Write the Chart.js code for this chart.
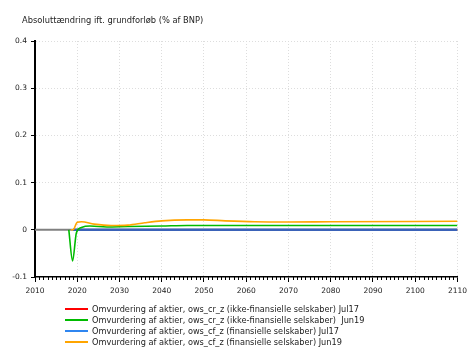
<!DOCTYPE html>
<html>
<head>
<meta charset="utf-8">
<script src="https://cdn.jsdelivr.net/npm/chart.js@4"></script>
<style>
  body { margin: 0; background: #fff; font-family: "DejaVu Sans", Verdana, sans-serif; }
  .wrap { position: relative; width: 472px; height: 347px; }
  .title { position: absolute; left: 22px; top: 15px; font-size: 8.3px; color: #222; }
  .legend { position: absolute; left: 65px; top: 303px; font-size: 8.2px; color: #222; }
  .legend div { display: flex; align-items: center; height: 11px; white-space: pre; }
  .legend span.sw { display: inline-block; width: 23px; height: 2px; margin-right: 4px; }
</style>
</head>
<body>
<div class="wrap">
  <canvas id="c" width="472" height="347"></canvas>
  <div class="title">Absoluttændring ift. grundforløb (% af BNP)</div>
  <div class="legend" id="legend"></div>
</div>
<script>
const labels = [
  'Omvurdering af aktier, ows_cr_z (ikke-finansielle selskaber) Jul17',
  'Omvurdering af aktier, ows_cr_z (ikke-finansielle selskaber)  Jun19',
  'Omvurdering af aktier, ows_cf_z (finansielle selskaber) Jul17',
  'Omvurdering af aktier, ows_cf_z (finansielle selskaber) Jun19'
];
const colors = ['#ff0000', '#00bb00', '#3a62b8', '#ffa500'];
const legendColors = ['#ff0000', '#00bb00', '#2f86f0', '#ffa500'];

// key years / values
const crJul17Years = [2019, 2110];
const crJul17 = [0, 0];
const crJun19Years = [2018, 2018.9, 2019.8, 2021, 2023, 2027, 2032, 2040, 2046, 2060, 2080, 2110];
const crJun19 = [0, -0.066, -0.006, 0.005, 0.008, 0.006, 0.007, 0.008, 0.009, 0.009, 0.009, 0.009];
const cfJul17Years = [2019, 2110];
const cfJul17 = [0, 0];
const cfJun19Years = [2018.5, 2019, 2020, 2021, 2024, 2028, 2032, 2036, 2040, 2046, 2050, 2055, 2062, 2070, 2080, 2110];
const cfJun19 = [0, 0, 0.016, 0.017, 0.012, 0.009, 0.010, 0.015, 0.019, 0.021, 0.021, 0.019, 0.017, 0.0165, 0.017, 0.018];

const xMin = 2010, xMax = 2110;
const yTicks = [-0.1, 0, 0.1, 0.2, 0.3, 0.4];

const pts = (xs, ys) => xs.map((x, i) => ({ x: x, y: ys[i] }));

const extras = {
  id: 'extras',
  beforeDatasetsDraw(chart) {
    const { ctx, chartArea, scales } = chart;
    const y0 = scales.y.getPixelForValue(0);
    ctx.save();
    ctx.strokeStyle = '#808080';
    ctx.lineWidth = 2;
    ctx.beginPath();
    ctx.moveTo(chartArea.left, y0);
    ctx.lineTo(chartArea.right, y0);
    ctx.stroke();
    ctx.restore();
  },
  afterDraw(chart) {
    // minor yearly ticks on the x axis
    const { ctx, chartArea, scales } = chart;
    ctx.save();
    ctx.strokeStyle = '#000';
    ctx.lineWidth = 1;
    ctx.beginPath();
    for (let yr = xMin; yr <= xMax; yr++) {
      if (yr % 10 === 0) continue;
      const px = Math.round(scales.x.getPixelForValue(yr)) + 0.5;
      ctx.moveTo(px, chartArea.bottom);
      ctx.lineTo(px, chartArea.bottom + 3);
    }
    ctx.stroke();
    ctx.restore();
  }
};

const data = [pts(crJul17Years, crJul17), pts(crJun19Years, crJun19), pts(cfJul17Years, cfJul17), pts(cfJun19Years, cfJun19)];

const chart = new Chart(document.getElementById('c'), {
  type: 'line',
  data: {
    datasets: labels.map((l, i) => ({
      label: l,
      data: data[i],
      borderColor: colors[i],
      borderWidth: i === 2 ? 2.5 : 1.6,
      pointRadius: 0,
      fill: false,
      cubicInterpolationMode: 'monotone',
      order: i === 2 ? 3 : (i === 0 ? 4 : (i === 1 ? 2 : 1))
    }))
  },
  options: {
    responsive: false,
    animation: false,
    layout: { padding: { top: 41, right: 12, bottom: 0, left: 0 } },
    plugins: {
      legend: { display: false },
      tooltip: { enabled: false }
    },
    scales: {
      x: {
        type: 'linear',
        min: xMin,
        max: xMax,
        afterFit: (s) => { s.height = 70; },
        ticks: { stepSize: 10, color: '#222', font: { family: 'DejaVu Sans', size: 7.5 }, padding: 5, maxRotation: 0, callback: (v) => String(v) },
        grid: {
          color: (c) => (c.tick && c.tick.value === xMin ? 'transparent' : '#dddddd'),
          tickColor: '#000',
          tickLength: 5,
          lineWidth: 1
        },
        border: { display: true, color: '#000', width: 1.5, dash: [1, 2] }
      },
      y: {
        min: -0.1,
        max: 0.4,
        afterFit: (s) => { s.width = 35; },
        afterBuildTicks: (s) => { s.ticks = yTicks.map((v) => ({ value: v })); },
        ticks: { color: '#222', font: { family: 'DejaVu Sans', size: 7.5 }, padding: 4, callback: (v) => (v === 0 ? '0' : v.toFixed(1)) },
        grid: {
          color: (c) => (c.tick && (c.tick.value === 0 || c.tick.value === -0.1) ? 'transparent' : '#dddddd'),
          tickColor: '#000',
          tickLength: 4,
          lineWidth: 1
        },
        border: { display: true, color: '#000', width: 2, dash: [1, 2] }
      }
    }
  },
  plugins: [extras]
});

const leg = document.getElementById('legend');
labels.forEach((l, i) => {
  const row = document.createElement('div');
  const sw = document.createElement('span');
  sw.className = 'sw';
  sw.style.background = legendColors[i];
  row.appendChild(sw);
  row.appendChild(document.createTextNode(l));
  leg.appendChild(row);
});
</script>
</body>
</html>
